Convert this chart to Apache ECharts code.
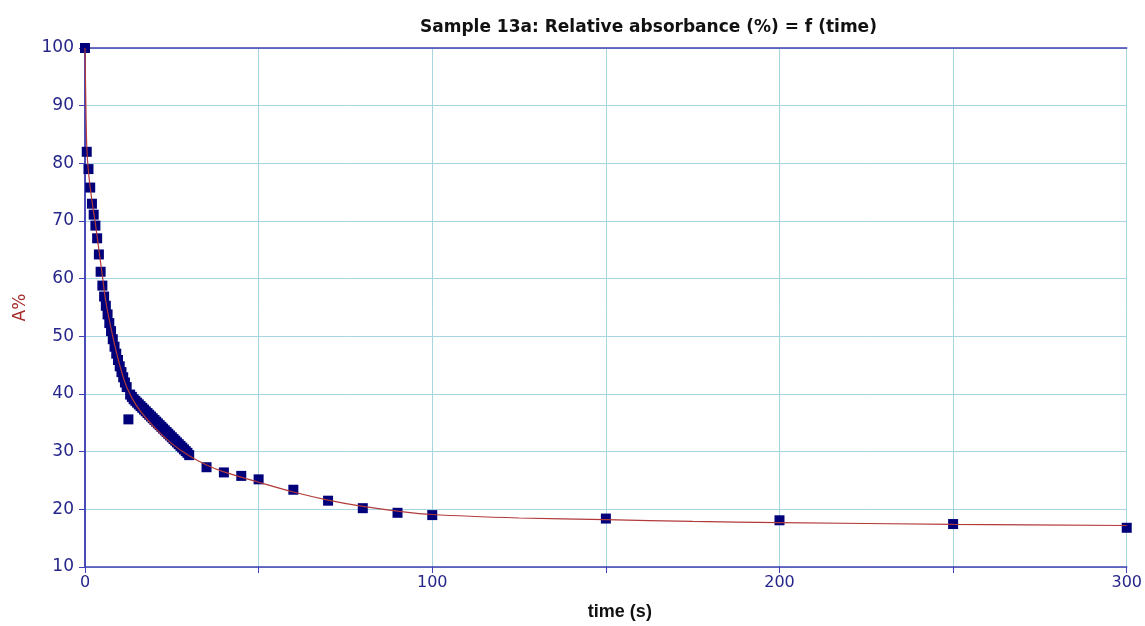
<!DOCTYPE html>
<html>
<head>
<meta charset="utf-8">
<title>Sample 13a</title>
<script src="https://cdn.jsdelivr.net/npm/echarts@6/dist/echarts.min.js"></script>
<style>
  html, body { margin: 0; padding: 0; background: #fff; }
  #chart { width: 1145px; height: 626px; }
</style>
</head>
<body>
<div id="chart"></div>
<script>
// measured points (time in s, A in %)
var timeData = [0, 0.5, 1, 1.5, 2, 2.5, 3, 3.5, 4, 4.5, 5, 5.5, 6, 6.5, 7, 7.5, 8, 8.5, 9, 9.5,
  10, 10.5, 11, 11.5, 12, 12.5, 13, 13.5, 14, 14.5, 15, 15.5, 16, 16.5, 17, 17.5, 18, 18.5, 19, 19.5,
  20, 20.5, 21, 21.5, 22, 22.5, 23, 23.5, 24, 24.5, 25, 25.5, 26, 26.5, 27, 27.5, 28, 28.5, 29, 29.5,
  30, 35, 40, 45, 50, 60, 70, 80, 90, 100, 150, 200, 250, 300]
var absData = [100, 82, 79, 75.8, 73, 71.1, 69.2, 67, 64.2, 61.2, 58.8, 56.9, 55.3, 53.8, 52.3, 50.9, 49.5, 48.2, 47, 45.9,
  44.8, 43.8, 42.9, 42, 41.2, 35.6, 39.9, 39.5, 39.1, 38.8, 38.5, 38.2, 37.9, 37.6, 37.3, 37, 36.7, 36.4, 36.1, 35.8,
  35.5, 35.2, 34.9, 34.6, 34.3, 34, 33.7, 33.4, 33.1, 32.8, 32.5, 32.2, 31.9, 31.6, 31.3, 31, 30.7, 30.4, 30.1, 29.8,
  29.4, 27.3, 26.4, 25.8, 25.2, 23.4, 21.5, 20.2, 19.4, 19.0, 18.4, 18.1, 17.45, 16.8]

// fitted curve
var fitTime = [0, 0.2, 0.5, 1, 2, 3, 4, 5, 6, 8, 10, 12, 15, 20, 25, 30, 35, 40, 50, 60, 70, 80, 90, 100, 125, 150, 175, 200, 250, 300]
var fitAbs = [100, 92, 83, 78.5, 73.5, 69.5, 65, 60.5, 56, 50, 45, 41.2, 37.8, 34.2, 31.4, 29.3, 27.7, 26.5, 24.7, 23.0, 21.6, 20.5, 19.7, 19.1, 18.5, 18.2, 17.9, 17.7, 17.4, 17.2]

var xTicks = [0, 100, 200, 300]

var points = timeData.map(function (t, i) { return [t, absData[i]] })
var fitLine = fitTime.map(function (t, i) { return [t, fitAbs[i]] })

var myChart = echarts.init(document.getElementById('chart'))
var axisBlue = '#4040b4'
var labelBlue = '#26268a'
var gridBlue = '#a6d4e0'

var option = {
  backgroundColor: '#ffffff',
  animation: false,
  title: {
    text: 'Sample 13a: Relative absorbance (%) = f (time)',
    left: 415,
    top: 14,
    textStyle: { fontFamily: 'DejaVu Sans', fontWeight: 'bold', fontSize: 17, color: '#111' }
  },
  grid: { left: 85, right: 17, top: 48, bottom: 59 },
  xAxis: [{
    type: 'value',
    min: 0, max: 300, interval: 50,
    name: 'time (s)',
    nameLocation: 'middle',
    nameGap: 36,
    nameTextStyle: { fontFamily: 'Liberation Sans', fontWeight: 'bold', fontSize: 18, color: '#111', padding: [0, 0, 0, 28] },
    axisLine: { lineStyle: { color: axisBlue, width: 1.5 } },
    axisTick: { show: true, length: 6, lineStyle: { color: axisBlue } },
    axisLabel: {
      color: labelBlue, fontFamily: 'DejaVu Sans', fontSize: 16, margin: 8,
      formatter: function (v) { return xTicks.indexOf(v) >= 0 ? String(v) : '' }
    },
    splitLine: { show: true, lineStyle: { color: gridBlue, width: 1 } }
  }, {
    // top frame line
    type: 'value', position: 'top', min: 0, max: 300,
    axisLine: { show: true, lineStyle: { color: axisBlue, width: 1.5 } },
    axisTick: { show: false }, axisLabel: { show: false }, splitLine: { show: false }
  }],
  yAxis: [{
    type: 'value',
    min: 10, max: 100, interval: 10,
    name: 'A%',
    nameLocation: 'middle',
    nameGap: 56,
    nameTextStyle: { fontFamily: 'DejaVu Sans', fontSize: 17, color: '#a52a2a' },
    axisLine: { show: true, lineStyle: { color: axisBlue, width: 1.5 } },
    axisTick: { show: true, length: 6, lineStyle: { color: axisBlue } },
    axisLabel: { color: labelBlue, fontFamily: 'DejaVu Sans', fontSize: 17, margin: 11 },
    splitLine: { show: true, lineStyle: { color: gridBlue, width: 1 } }
  }, {
    // right frame line
    type: 'value', position: 'right', min: 10, max: 100,
    axisLine: { show: true, lineStyle: { color: axisBlue, width: 1.5 } },
    axisTick: { show: false }, axisLabel: { show: false }, splitLine: { show: false }
  }],
  series: [{
    name: 'data',
    type: 'scatter',
    symbol: 'rect',
    symbolSize: 10,
    itemStyle: { color: '#00007a', opacity: 1 },
    data: points,
    z: 2
  }, {
    name: 'fit',
    type: 'line',
    smooth: 0.3,
    showSymbol: false,
    lineStyle: { color: '#b23a3a', width: 1.2 },
    data: fitLine,
    z: 3
  }]
}
myChart.setOption(option)
</script>
</body>
</html>
